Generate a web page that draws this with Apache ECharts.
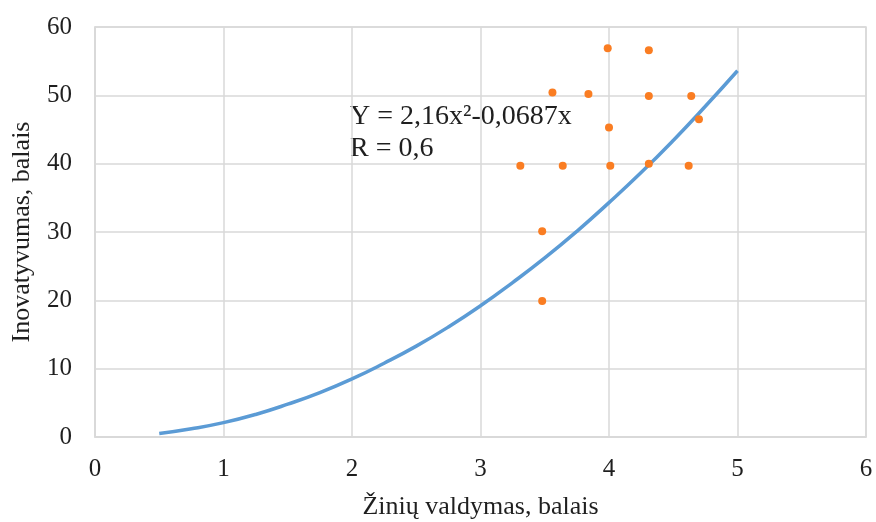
<!DOCTYPE html>
<html>
<head>
<meta charset="utf-8">
<script src="https://cdn.jsdelivr.net/npm/echarts@6/dist/echarts.min.js"></script>
<style>html,body{margin:0;padding:0;background:#fff;}#c{width:876px;height:522px;}</style>
</head>
<body>
<div id="c"></div>
<script>
const xTicks = [0, 1, 2, 3, 4, 5, 6];
const yTicks = [0, 10, 20, 30, 40, 50, 60];
const xName = 'Žinių valdymas, balais';
const yName = 'Inovatyvumas, balais';
const equationText = 'Y = 2,16x²-0,0687x';
const rText = 'R = 0,6';
const scatterX = [3.99, 4.31, 3.56, 3.84, 4.31, 4.64, 4.70, 4.00, 3.31, 3.64, 4.01, 4.31, 4.62, 3.48, 3.48];
const scatterY = [56.9, 56.6, 50.4, 50.2, 49.9, 49.9, 46.5, 45.3, 39.7, 39.7, 39.7, 40.0, 39.7, 30.1, 19.9];
const curveX = [0.5, 0.75, 1, 1.25, 1.5, 1.75, 2, 2.25, 2.5, 2.75, 3, 3.25, 3.5, 3.75, 4, 4.25, 4.5, 4.75, 5];
const curveY = [0.5, 1.2, 2.1, 3.3, 4.8, 6.5, 8.5, 10.8, 13.3, 16.1, 19.2, 22.6, 26.2, 30.1, 34.3, 38.7, 43.4, 48.4, 53.6];

const font = 'Liberation Serif, Times New Roman, serif';
const txt = '#1f1f1f';
const chart = echarts.init(document.getElementById('c'));
chart.setOption({
  animation: false,
  backgroundColor: '#fff',
  grid: { left: 95, right: 10, top: 27, bottom: 85, show: true, borderColor: '#d9d9d9', borderWidth: 1.5, containLabel: false, outerBoundsMode: 'none' },
  xAxis: {
    type: 'value', min: xTicks[0], max: xTicks[xTicks.length - 1], interval: 1,
    name: xName, nameLocation: 'middle', nameGap: 57,
    nameTextStyle: { fontFamily: font, fontSize: 26, color: txt },
    axisLine: { show: true, lineStyle: { color: '#d9d9d9', width: 1.5 } },
    axisTick: { show: false },
    splitLine: { show: true, lineStyle: { color: '#d9d9d9', width: 1.5 } },
    axisLabel: { fontFamily: font, fontSize: 25, color: txt, margin: 20 }
  },
  yAxis: {
    type: 'value', min: yTicks[0], max: yTicks[yTicks.length - 1], interval: 10,
    name: yName, nameLocation: 'middle', nameGap: 60,
    nameTextStyle: { fontFamily: font, fontSize: 26, color: txt },
    axisLine: { show: true, lineStyle: { color: '#d9d9d9', width: 1.5 } },
    axisTick: { show: false },
    splitLine: { show: true, lineStyle: { color: '#d9d9d9', width: 1.5 } },
    axisLabel: { fontFamily: font, fontSize: 25, color: txt, margin: 23 }
  },
  series: [
    {
      type: 'line', smooth: true, showSymbol: false, symbol: 'none',
      data: curveX.map((x, i) => [x, curveY[i]]),
      lineStyle: { color: '#5B9BD5', width: 3.5 }, z: 3
    },
    {
      type: 'scatter', symbol: 'circle', symbolSize: 8,
      data: scatterX.map((x, i) => [x, scatterY[i]]),
      itemStyle: { color: '#FA7D22', opacity: 1 }, z: 4
    }
  ],
  graphic: [
    { type: 'text', left: 350, top: 103, style: { text: equationText, fontFamily: font, fontSize: 28, fill: txt } },
    { type: 'text', left: 350, top: 135, style: { text: rText, fontFamily: font, fontSize: 28, fill: txt } }
  ]
});
</script>
</body>
</html>
